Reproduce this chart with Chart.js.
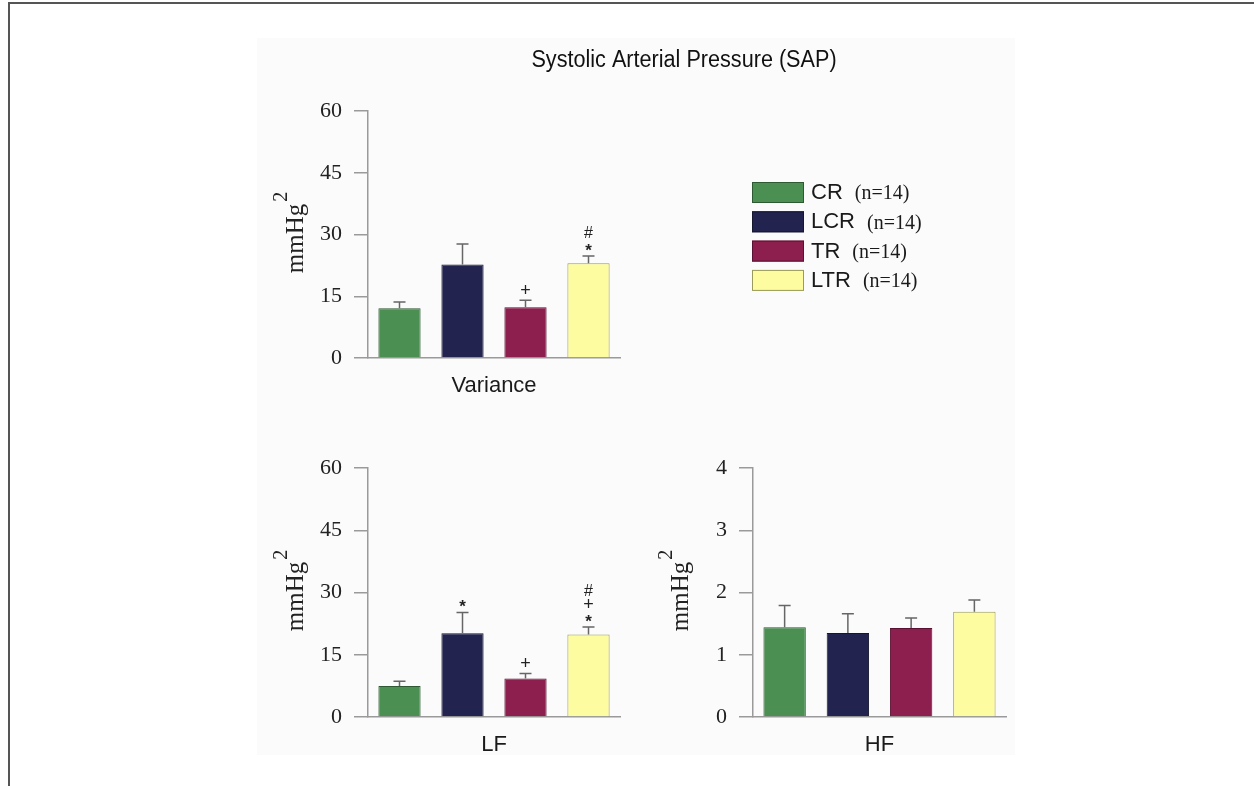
<!DOCTYPE html>
<html>
<head>
<meta charset="utf-8">
<title>Systolic Arterial Pressure (SAP)</title>
<script src="https://cdn.jsdelivr.net/npm/chart.js@4.4.1/dist/chart.umd.min.js"></script>
<style>
    html, body { margin: 0; padding: 0; background: #fff; }
    body { width: 1254px; height: 786px; position: relative; overflow: hidden; }
    #frame { position: absolute; left: 8px; top: 2px; right: 0; bottom: 0; border-top: 2px solid #555; border-left: 2px solid #555; }
    #panel { position: absolute; left: 257px; top: 38px; width: 758px; height: 717px; background: #fbfbfb; }
    canvas { position: absolute; }
</style>
</head>
<body>
<div id="frame"></div>
<div id="panel"></div>
<canvas id="varChart" width="800" height="380" style="left:230px; top:30px;"></canvas>
<canvas id="lfChart" width="400" height="330" style="left:230px; top:440px;"></canvas>
<canvas id="hfChart" width="400" height="330" style="left:615px; top:440px;"></canvas>
<script>
// groups and colours
const groups = ['CR', 'LCR', 'TR', 'LTR'];
const groupN = ['(n=14)', '(n=14)', '(n=14)', '(n=14)'];
const fillColors = ['#4b8f53', '#22234f', '#8d1f4f', '#fdfca1'];
const edgeColors = ['#2e5a33', '#15162f', '#5a1232', '#9a9a5a'];

// Variance panel (mmHg^2)
const varianceMean = [12.1, 22.7, 12.3, 23.0];
const varianceSem = [1.5, 5.0, 1.7, 1.8];
const varianceMarks = ['', '', '+', '*#'];
const varianceTicks = [0, 15, 30, 45, 60];

// LF panel (mmHg^2)
const lfMean = [7.5, 20.2, 9.3, 19.9];
const lfSem = [1.1, 5.0, 1.2, 1.8];
const lfMarks = ['', '*', '+', '*+#'];
const lfTicks = [0, 15, 30, 45, 60];

// HF panel (mmHg^2)
const hfMean = [1.44, 1.35, 1.43, 1.69];
const hfSem = [0.35, 0.31, 0.16, 0.19];
const hfMarks = ['', '', '', ''];
const hfTicks = [0, 1, 2, 3, 4];

const SERIF = '"Liberation Serif", "Times New Roman", serif';
const SANS = '"Liberation Sans", Arial, sans-serif';
const AXIS = '#9a9a9a';

// upper error bars + significance symbols stacked above them
const errorBarPlugin = {
    id: 'errorBars',
    afterDatasetsDraw(chart, args, opts) {
        const ctx = chart.ctx;
        const y = chart.scales.y;
        const meta = chart.getDatasetMeta(0);
        ctx.save();
        meta.data.forEach((bar, i) => {
            const top = y.getPixelForValue(opts.mean[i] + opts.sem[i]);
            ctx.strokeStyle = '#666';
            ctx.lineWidth = 1.5;
            ctx.beginPath();
            ctx.moveTo(bar.x, bar.y);
            ctx.lineTo(bar.x, top);
            ctx.moveTo(bar.x - 6, top);
            ctx.lineTo(bar.x + 6, top);
            ctx.stroke();
            // symbols, bottom to top
            let yy = top - 9;
            ctx.fillStyle = '#222';
            ctx.textAlign = 'center';
            ctx.textBaseline = 'middle';
            for (const ch of opts.marks[i]) {
                if (ch === '*') {
                    ctx.font = 'bold 17px ' + SANS;
                    ctx.fillText(ch, bar.x, yy + 4);
                } else if (ch === '+') {
                    ctx.font = '18px ' + SANS;
                    ctx.fillText(ch, bar.x, yy);
                } else {
                    ctx.font = '16px ' + SANS;
                    ctx.fillText(ch, bar.x, yy);
                }
                yy -= 13;
            }
        });
        ctx.restore();
    }
};

// rotated "mmHg" with superscript 2
const unitTitlePlugin = {
    id: 'unitTitle',
    afterDraw(chart, args, opts) {
        const ctx = chart.ctx;
        const area = chart.chartArea;
        const cx = area.left - opts.offset;
        const cy = (area.top + area.bottom) / 2;
        ctx.save();
        ctx.translate(cx, cy);
        ctx.rotate(-Math.PI / 2);
        ctx.fillStyle = '#222';
        ctx.font = '25px ' + SERIF;
        ctx.textBaseline = 'middle';
        const w = ctx.measureText('mmHg').width;
        ctx.textAlign = 'left';
        ctx.fillText('mmHg', -w / 2 - 4, 4);
        ctx.font = '20px ' + SERIF;
        ctx.fillText('2', w / 2 - 2, -10);
        ctx.restore();
    }
};

// legend with the group name in sans and n in serif
const groupLegendPlugin = {
    id: 'groupLegend',
    afterDraw(chart, args, opts) {
        if (!opts.show) return;
        const ctx = chart.ctx;
        ctx.save();
        groups.forEach((g, i) => {
            const y = opts.y + i * 29.3;
            ctx.fillStyle = fillColors[i];
            ctx.strokeStyle = edgeColors[i];
            ctx.lineWidth = 1;
            ctx.fillRect(opts.x, y, 52, 21);
            ctx.strokeRect(opts.x + 0.5, y + 0.5, 51, 20);
            ctx.fillStyle = '#1a1a1a';
            ctx.textBaseline = 'middle';
            ctx.textAlign = 'left';
            ctx.font = '22px ' + SANS;
            ctx.fillText(g, opts.x + 59, y + 11);
            const gw = ctx.measureText(g).width;
            ctx.font = '20px ' + SERIF;
            ctx.fillText(groupN[i], opts.x + 59 + gw + 12, y + 12);
        });
        ctx.restore();
    }
};

// figure title, slightly condensed
const figTitlePlugin = {
    id: 'figTitle',
    afterDraw(chart, args, opts) {
        if (!opts.text) return;
        const ctx = chart.ctx;
        ctx.save();
        ctx.translate(opts.x, opts.y);
        ctx.scale(0.94, 1);
        ctx.fillStyle = '#111';
        ctx.font = '23px ' + SANS;
        ctx.textAlign = 'center';
        ctx.textBaseline = 'middle';
        ctx.fillText(opts.text, 0, 0);
        ctx.restore();
    }
};

function makePanel(id, label, mean, sem, marks, ticks, pad, extra) {
    const ctx = document.getElementById(id).getContext('2d');
    return new Chart(ctx, {
        type: 'bar',
        data: {
            labels: groups,
            datasets: [{
                label: label,
                data: mean,
                backgroundColor: fillColors,
                borderColor: edgeColors,
                borderWidth: 1,
                barPercentage: 0.67,
                categoryPercentage: 1.0
            }]
        },
        options: {
            responsive: false,
            animation: false,
            layout: { padding: pad },
            scales: {
                x: {
                    grid: { display: false },
                    border: { display: true, color: AXIS, width: 1.5 },
                    ticks: { display: false },
                    title: {
                        display: true,
                        text: label,
                        color: '#1a1a1a',
                        font: { family: SANS, size: 22 },
                        padding: 0
                    },
                    afterFit: s => { s.height = 41; }
                },
                y: {
                    min: ticks[0],
                    max: ticks[ticks.length - 1],
                    afterBuildTicks: s => { s.ticks = ticks.map(v => ({ value: v })); },
                    grid: { drawOnChartArea: false, drawTicks: true, tickLength: 14, color: AXIS, lineWidth: 1.5 },
                    border: { display: true, color: AXIS, width: 1.5 },
                    ticks: { color: '#222', font: { family: SERIF, size: 22 }, padding: 12 },
                    afterFit: s => { s.width = 60; }
                }
            },
            plugins: {
                legend: { display: false },
                tooltip: { enabled: false },
                errorBars: { mean: mean, sem: sem, marks: marks },
                unitTitle: { offset: 76 },
                groupLegend: extra.legend || { show: false },
                figTitle: extra.title || {}
            }
        },
        plugins: [errorBarPlugin, unitTitlePlugin, groupLegendPlugin, figTitlePlugin]
    });
}

// chart areas: top 368-620 x 111-358, bottom-left 368-620 x 468-717, bottom-right 753-1006 x 468-717
makePanel('varChart', 'Variance', varianceMean, varianceSem, varianceMarks, varianceTicks,
    { left: 78, right: 410, top: 81, bottom: 11 },
    { legend: { show: true, x: 522, y: 152 }, title: { text: 'Systolic Arterial Pressure (SAP)', x: 454, y: 31 } });
makePanel('lfChart', 'LF', lfMean, lfSem, lfMarks, lfTicks,
    { left: 78, right: 10, top: 28, bottom: 12 }, {});
makePanel('hfChart', 'HF', hfMean, hfSem, hfMarks, hfTicks,
    { left: 78, right: 9, top: 28, bottom: 12 }, {});
</script>
</body>
</html>
